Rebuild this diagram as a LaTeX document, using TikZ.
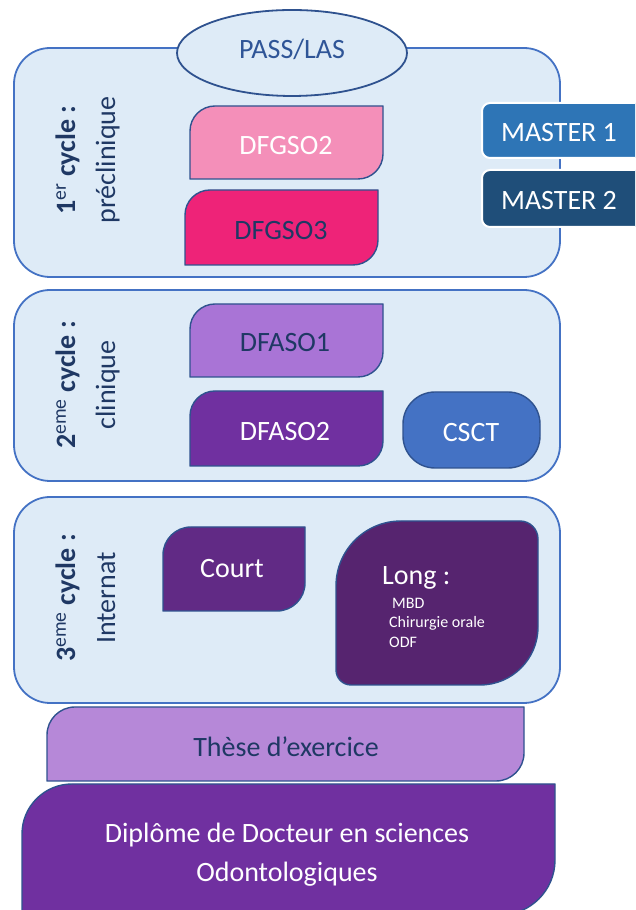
\documentclass[tikz,border=0pt]{standalone}
\usepackage{fontspec}
\setmainfont{Carlito}
\definecolor{panelfill}{HTML}{DEEBF7}
\definecolor{panelline}{HTML}{4472C4}
\definecolor{shapeline}{HTML}{2F528F}
\definecolor{pinktwo}{HTML}{F48FB9}
\definecolor{pinkthree}{HTML}{EE2378}
\definecolor{purone}{HTML}{A974D6}
\definecolor{purtwo}{HTML}{7030A0}
\definecolor{csctfill}{HTML}{4472C4}
\definecolor{courtfill}{HTML}{612A85}
\definecolor{longfill}{HTML}{56246F}
\definecolor{thesefill}{HTML}{B688D8}
\definecolor{diplfill}{HTML}{7030A0}
\definecolor{mone}{HTML}{2E75B6}
\definecolor{mtwo}{HTML}{1F4E79}
\definecolor{navy}{HTML}{1F3864}
\definecolor{passblue}{HTML}{2F5597}
% #1 fill, #2 x1, #3 ybottom, #4 x2, #5 ytop, #6 TL, #7 TR, #8 BR, #9 BL radii
\newcommand\leafshape[9]{%
  \filldraw[draw=shapeline, line width=1.4pt, fill=#1]
    (#2,#5-#6) arc[start angle=180,end angle=90,radius=#6]
    -- (#4-#7,#5) arc[start angle=90,end angle=0,radius=#7]
    -- (#4,#3+#8) arc[start angle=0,end angle=-90,radius=#8]
    -- (#2+#9,#3) arc[start angle=270,end angle=180,radius=#9]
    -- cycle;}
\begin{document}
\begin{tikzpicture}[x=1pt,y=1pt,
  panel/.style={fill=panelfill, draw=panelline, line width=1.8pt, rounded corners=36},
  big/.style={font=\fontsize{28}{34}\selectfont, anchor=base, inner sep=0pt},
  small/.style={font=\fontsize{16}{19}\selectfont, anchor=base west, inner sep=0pt, text=white},
  lab/.style={font=\fontsize{28}{34}\selectfont, text=navy, rotate=90, anchor=base, inner sep=0pt},
  master/.style={draw=white, line width=2pt, rounded corners=8}]
\useasboundingbox (0,0) rectangle (635,910);
\clip (0,0) rectangle (635,910);
\fill[white] (0,0) rectangle (635,910);

% panels
\draw[panel] (14,633) rectangle (560,862);
\draw[panel] (14,429) rectangle (560,620);
\draw[panel] (14,207) rectangle (560,413);

% PASS/LAS
\filldraw[fill=panelfill, draw=shapeline, line width=1.8pt] (292,857) ellipse [x radius=115, y radius=43];
\node[big, text=passblue] (pass) at (292,851) {PASS/LAS};

% cycle 1
\leafshape{pinktwo}{190}{731}{383}{804}{25}{0.01}{25}{0.01}
\node[big, text=white] (dfgso2) at (286,755) {DFGSO2};
\leafshape{pinkthree}{185}{645}{378}{720}{25}{0.01}{25}{0.01}
\node[big, text=navy] (dfgso3) at (281,670) {DFGSO3};

\draw[master, fill=mone] (482,752) rectangle (660,807);
\node[big, text=white] (m1) at (559,768) {MASTER 1};
\draw[master, fill=mtwo] (482,683) rectangle (660,740);
\node[big, text=white] (m2) at (559,700) {MASTER 2};

\node[lab] (c1a) at (75,750) {\textbf{1\textsuperscript{\mdseries er} cycle :}};
\node[lab] (c1b) at (115,750) {préclinique};

% cycle 2
\leafshape{purone}{190}{533}{383}{606}{25}{0.01}{25}{0.01}
\node[big, text=navy] (dfaso1) at (285,558) {DFASO1};
\leafshape{purtwo}{190}{444}{383}{519}{25}{0.01}{25}{0.01}
\node[big, text=white] (dfaso2) at (285,469) {DFASO2};
\leafshape{csctfill}{403}{442}{540}{518}{32}{32}{32}{32}
\node[big, text=white] (csct) at (471,468) {CSCT};

\node[lab] (c2a) at (75,525) {\textbf{2\textsuperscript{\mdseries eme} cycle :}};
\node[lab] (c2b) at (115,525) {clinique};

% cycle 3
\leafshape{courtfill}{163}{299}{305}{383}{28}{0.01}{28}{0.01}
\node[big, text=white] (court) at (232,332) {Court};
\leafshape{longfill}{336}{225}{538}{389}{65}{18}{58}{15}
\node[big, text=white, anchor=base west] (long) at (382,325) {Long :};
\node[small] (mbd) at (392,301) {MBD};
\node[small] (chir) at (389,282) {Chirurgie orale};
\node[small] (odf) at (389,262) {ODF};

\node[lab] (c3a) at (75,312) {\textbf{3\textsuperscript{\mdseries eme} cycle :}};
\node[lab] (c3b) at (115,312) {Internat};

% these
\leafshape{thesefill}{47}{129}{524}{203}{28}{0.01}{28}{0.01}
\node[big, text=navy] (these) at (286,153) {Thèse d’exercice};

% diplome
\leafshape{diplfill}{22}{-5}{555}{126}{50}{0.01}{55}{0.01}
\node[big, text=white] (dipl1) at (287,67) {Diplôme de Docteur en sciences};
\node[big, text=white] (dipl2) at (287,28) {Odontologiques};
\end{tikzpicture}
\end{document}
